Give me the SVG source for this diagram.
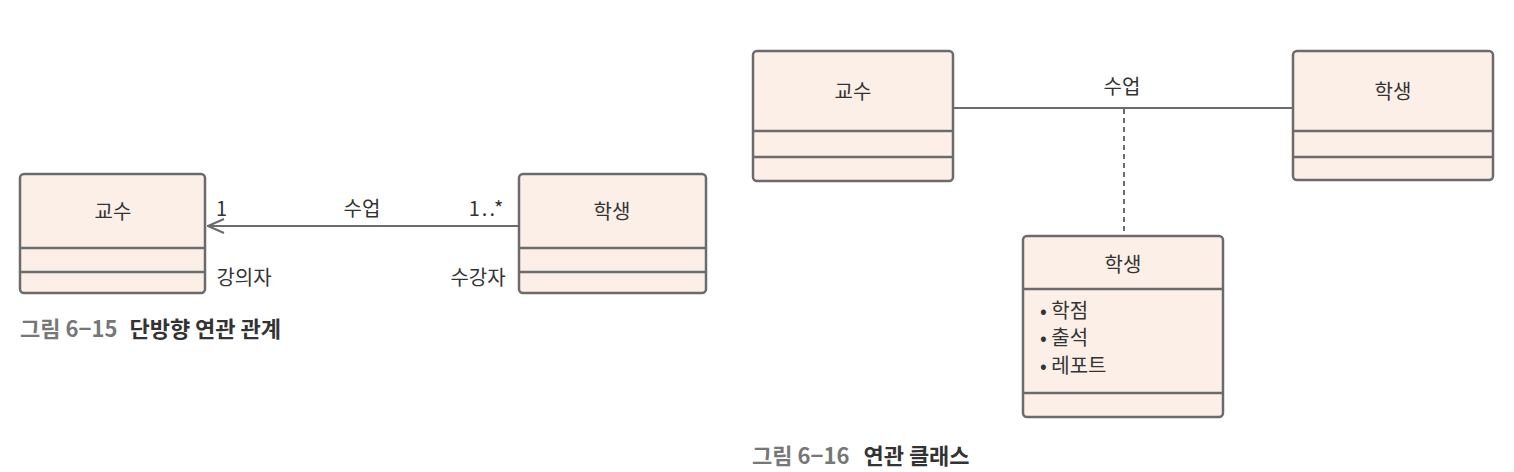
<svg xmlns="http://www.w3.org/2000/svg" width="1514" height="472" viewBox="0 0 1514 472">
<defs>
<style>
.box{fill:#fcefe8;stroke:#6b6b6b;stroke-width:2.5}
.div{stroke:#6b6b6b;stroke-width:2.5}
.t{font-family:"Noto Sans CJK KR","Noto Sans",sans-serif;font-size:20px;fill:#333}
.c{text-anchor:middle}
.line{stroke:#6b6b6b;stroke-width:2;fill:none}
.cap1{font-family:"Noto Sans CJK KR","Noto Sans",sans-serif;font-size:22px;font-weight:bold;fill:#777}
.cap2{font-family:"Noto Sans CJK KR","Noto Sans",sans-serif;font-size:22px;font-weight:bold;fill:#333}
</style>
<marker id="open" viewBox="0 0 20 20" refX="19" refY="10" markerWidth="20" markerHeight="20" markerUnits="userSpaceOnUse" orient="auto">
<path d="M3,3 L19,10 L3,17" fill="none" stroke="#6b6b6b" stroke-width="2"/>
</marker>
</defs>
<g id="connectors">
<line class="line" x1="519" y1="226" x2="208" y2="226" marker-end="url(#open)"/>
<line class="line" x1="953" y1="108" x2="1293" y2="108"/>
<line class="line" x1="1124" y1="109" x2="1124" y2="236" stroke-dasharray="5,4"/>
</g>
<g id="labels">
<text class="t" x="216" y="216">1</text>
<text class="t c" x="362" y="216">수업</text>
<text class="t c" x="487" y="216" letter-spacing="2">1..*</text>
<text class="t c" x="244" y="285">강의자</text>
<text class="t c" x="478" y="285">수강자</text>
<text class="t c" x="1122" y="94">수업</text>
</g>
<g id="prof1">
<rect class="box" x="20" y="174" width="185" height="119" rx="4"/>
<line class="div" x1="20" y1="248" x2="205" y2="248"/>
<line class="div" x1="20" y1="272" x2="205" y2="272"/>
<text class="t c" x="113" y="219">교수</text>
</g>
<g id="student1">
<rect class="box" x="519" y="174" width="187" height="119" rx="4"/>
<line class="div" x1="519" y1="248" x2="706" y2="248"/>
<line class="div" x1="519" y1="272" x2="706" y2="272"/>
<text class="t c" x="612" y="219">학생</text>
</g>
<g id="prof2">
<rect class="box" x="753" y="51" width="200" height="130" rx="4"/>
<line class="div" x1="753" y1="131" x2="953" y2="131"/>
<line class="div" x1="753" y1="157" x2="953" y2="157"/>
<text class="t c" x="853" y="99">교수</text>
</g>
<g id="student2">
<rect class="box" x="1293" y="51" width="200" height="129" rx="4"/>
<line class="div" x1="1293" y1="131" x2="1493" y2="131"/>
<line class="div" x1="1293" y1="157" x2="1493" y2="157"/>
<text class="t c" x="1393" y="99">학생</text>
</g>
<g id="assocClass">
<rect class="box" x="1023" y="236" width="200" height="181" rx="4"/>
<line class="div" x1="1023" y1="289" x2="1223" y2="289"/>
<line class="div" x1="1023" y1="393" x2="1223" y2="393"/>
<text class="t c" x="1123" y="272">학생</text>
<text class="t" x="1040" y="318">• 학점</text>
<text class="t" x="1040" y="345">• 출석</text>
<text class="t" x="1040" y="373">• 레포트</text>
</g>
<g id="captions">
<text x="20" y="337"><tspan class="cap1">그림 6−15</tspan><tspan class="cap2" dx="12">단방향 연관 관계</tspan></text>
<text x="752" y="464"><tspan class="cap1">그림 6−16</tspan><tspan class="cap2" dx="14">연관 클래스</tspan></text>
</g>
</svg>
